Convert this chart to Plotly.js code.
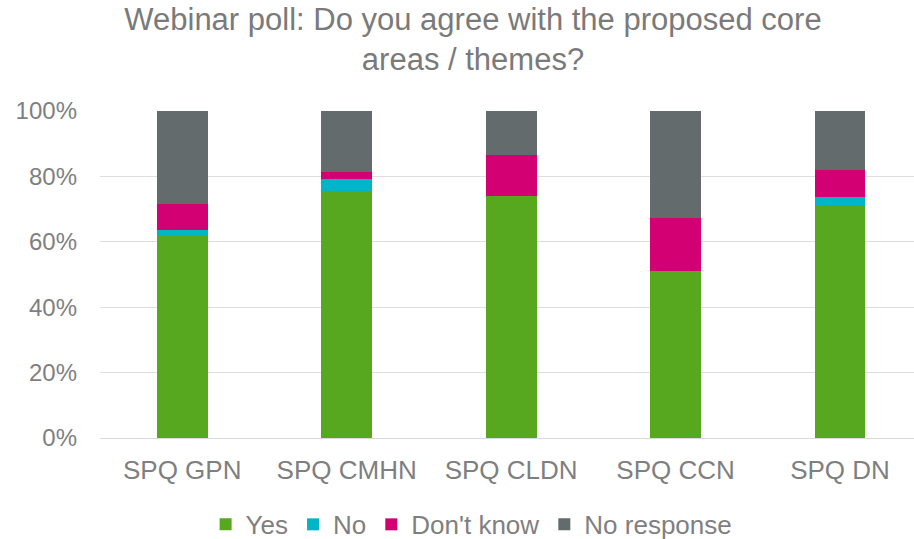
<!DOCTYPE html>
<html>
<head>
<meta charset="utf-8">
<script src="https://cdn.plot.ly/plotly-3.0.1.min.js"></script>
<style>html,body{margin:0;padding:0;background:#fff;}#chart{width:914px;height:539px;}</style>
</head>
<body>
<div id="chart"></div>
<script>
var categories = ['SPQ GPN', 'SPQ CMHN', 'SPQ CLDN', 'SPQ CCN', 'SPQ DN'];
var yesValues = [61.8, 75.5, 73.9, 51.1, 71.1];
var noValues = [1.9, 3.7, 0, 0, 2.5];
var dontKnowValues = [7.8, 2.2, 12.5, 16.1, 8.5];
var noResponseValues = [28.5, 18.6, 13.6, 32.8, 17.9];
var seriesNames = ['Yes', 'No', "Don't know", 'No response'];
var seriesColors = ['#57A81E', '#00B5C5', '#D20073', '#636B6D'];
var yTickVals = [0, 20, 40, 60, 80, 100];

var allSeries = [yesValues, noValues, dontKnowValues, noResponseValues];
var traces = allSeries.map(function (vals, i) {
  return {
    type: 'bar',
    x: categories,
    y: vals,
    name: seriesNames[i],
    width: 0.31,
    marker: { color: seriesColors[i], line: { width: 0 } },
    hoverinfo: 'skip'
  };
});

var layout = {
  width: 914,
  height: 539,
  barmode: 'stack',
  paper_bgcolor: '#ffffff',
  plot_bgcolor: '#ffffff',
  font: { family: 'Liberation Sans, Arial, sans-serif', color: '#7f7f7f' },
  margin: { l: 100, r: 0, t: 111, b: 101, pad: 0 },
  title: {
    text: 'Webinar poll: Do you agree with the proposed core<br>areas / themes?',
    font: { size: 31, color: '#7a7a7a', family: 'Liberation Sans, Arial, sans-serif' },
    xref: 'container', x: 0.5175, xanchor: 'center',
    yref: 'container', y: 0.945, yanchor: 'top'
  },
  xaxis: {
    type: 'category',
    range: [-0.5, 4.45],
    showgrid: false,
    zeroline: false,
    showline: false,
    ticks: '',
    tickfont: { size: 26, color: '#7f7f7f' },
    ticklabelstandoff: 14,
    fixedrange: true
  },
  yaxis: {
    range: [0, 100],
    tickvals: yTickVals,
    ticktext: yTickVals.map(function (v) { return v + '%'; }),
    showgrid: true,
    gridcolor: '#dedede',
    gridwidth: 1,
    zeroline: true,
    zerolinecolor: '#d9d9d9',
    zerolinewidth: 1,
    showline: false,
    ticks: '',
    tickfont: { size: 24, color: '#7f7f7f' },
    ticklabelstandoff: 22,
    fixedrange: true
  },
  showlegend: true,
  legend: {
    orientation: 'h',
    xref: 'container', x: 0.516, xanchor: 'center',
    yref: 'container', y: 0.027, yanchor: 'middle',
    font: { size: 26, color: '#7f7f7f' },
    itemwidth: 30,
    traceorder: 'normal',
    bgcolor: 'rgba(0,0,0,0)'
  },
  bargap: 0.69
};

Plotly.newPlot('chart', traces, layout, { displayModeBar: false, staticPlot: true });
</script>
</body>
</html>
